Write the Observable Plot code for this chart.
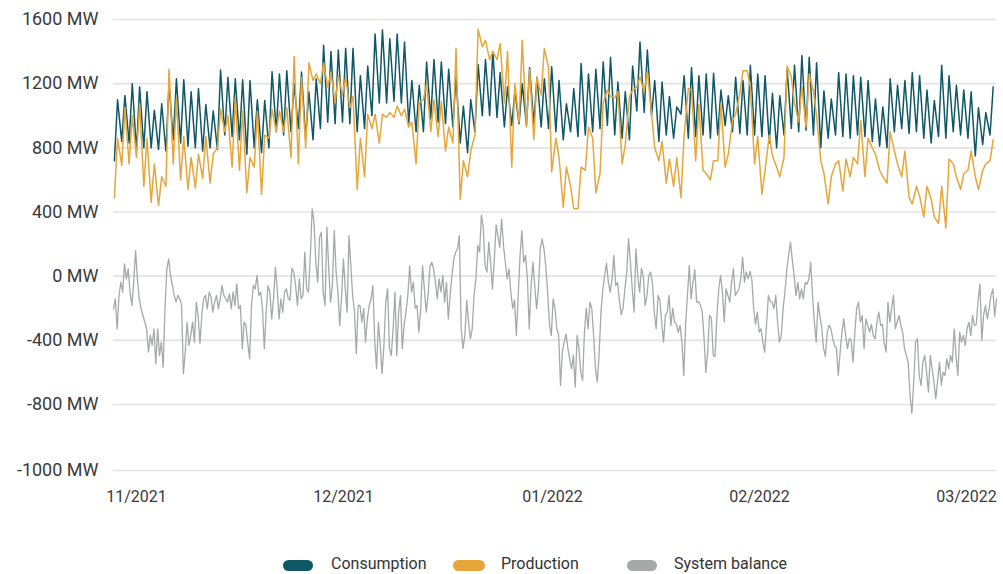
<!DOCTYPE html>
<html>
<head>
<meta charset="utf-8">
<script src="https://cdn.jsdelivr.net/npm/d3@7"></script>
<script src="https://cdn.jsdelivr.net/npm/@observablehq/plot@0.6"></script>
<style>
  html, body { margin: 0; padding: 0; background: #fff; }
  #wrap { position: relative; width: 1003px; height: 574px; overflow: hidden; font-family: Roboto, sans-serif; }
  #wrap svg { display: block; }
  .lg-sw { position: absolute; height: 11px; border-radius: 6px; top: 560px; }
  .lg-tx { position: absolute; top: 555px; font-family: Roboto, sans-serif; font-size: 16px; line-height: 18px; color: #333; white-space: nowrap; }
</style>
</head>
<body>
<div id="wrap"></div>
<script>
// ---- data ----
const seriesNames = ["Consumption", "Production", "System balance"];
const seriesColors = ["#0f5866", "#e6a63a", "#a7a9a9"];
const startDate = "2021-11-01T00:00Z";
const endDate = "2022-03-01T00:00Z";

// Consumption, MW: per day [night value, day value], Nov 1 2021 .. Feb 28 2022
const consumption = [
720,1100, 840,1126, 830,1200, 780,1180, 800,1150, 800,1035, 790,1075, 780,1200, 850,1230, 830,1225,
810,1150, 800,1170, 780,1070, 800,1030, 790,1285, 880,1240, 870,1230, 850,1225, 760,1220, 800,1100,
770,1095, 800,1275, 900,1260, 880,1280, 900,1200, 920,1272, 860,1150, 850,1230, 920,1440, 960,1400,
950,1410, 960,1420, 950,1420, 900,1250, 920,1310, 1000,1510, 1080,1535, 1080,1480, 1090,1510, 1080,1460,
950,1220, 900,1190, 900,1335, 980,1350, 960,1335, 950,1290, 930,1240, 830,1060, 770,1100, 900,1320,
1000,1350, 1000,1400, 990,1270, 930,1180, 940,1150, 950,1200, 940,1300, 950,1240, 930,1230, 920,1305,
900,1220, 850,1075, 900,1170, 870,1325, 880,1260, 900,1290, 920,1335, 940,1365, 880,1210, 860,1150,
850,1310, 1030,1460, 1020,1410, 1000,1220, 840,1210, 880,1120, 860,1055, 1010,1250, 860,1300, 870,1250,
880,1260, 860,1265, 880,1160, 940,1125, 900,1240, 890,1220, 880,1315, 880,1260, 870,1250, 830,1140,
800,1125, 880,1290, 920,1315, 900,1375, 910,1365, 880,1330, 800,1155, 860,1105, 880,1270, 870,1260,
860,1250, 880,1240, 870,1220, 840,1105, 810,1055, 800,1230, 900,1190, 920,1220, 890,1270, 900,1250,
860,1160, 830,1095, 870,1315, 860,1250, 900,1190, 880,1160, 860,1150, 750,1050, 820,1020, 880,1180
];

// Production, MW: per day [night value, day value]
const production = [
490,860, 690,1050, 700,1000, 740,1075, 560,860, 460,700, 440,620, 560,1290, 700,1110, 600,870,
540,740, 550,760, 610,870, 580,760, 800,1040, 900,1000, 680,1110, 660,1030, 520,740, 680,1030,
510,880, 860,1040, 900,1030, 900,1050, 740,1370, 700,1240, 800,1330, 1220,1260, 1200,1330, 1180,1270,
1080,1250, 1130,1240, 1050,1120, 540,860, 620,1010, 920,1010, 830,1010, 990,1020, 990,1060, 1000,1040,
930,960, 700,1080, 1100,1200, 900,1100, 870,1090, 780,930, 830,1420, 480,720, 620,780, 880,1540,
1430,1470, 1350,1400, 1350,1450, 1080,1400, 680,1200, 960,1470, 930,1290, 850,1240, 1130,1420, 1300,650,
860,740, 430,680, 560,420, 420,680, 660,930, 860,520, 640,1080, 1160,1120, 1110,1150, 700,820,
1120,1160, 1180,1240, 1150,1280, 1010,800, 720,840, 580,730, 560,740, 490,880, 1170,1160, 720,1070,
660,640, 600,720, 720,1075, 680,760, 970,1010, 1140,1280, 1280,1180, 700,870, 510,660, 880,750,
680,620, 740,1310, 1240,1080, 960,1180, 930,1260, 1150,1000, 720,640, 450,620, 700,720, 530,730,
620,740, 700,970, 620,860, 800,760, 660,620, 580,900, 780,700, 620,780, 490,450, 560,500,
370,560, 480,370, 330,560, 300,730, 700,620, 540,640, 660,780, 620,540, 660,700, 720,850
];

// System balance, MW: every 6 hours from Nov 1 2021 00:00 to Mar 1 2022 00:00
const balance = [
-203,-141,-328,-120,-37,-99,77,-17,46,-99,
-183,-37,160,-17,-141,-203,-245,-286,-328,-473,
-369,-432,-328,-546,-328,-494,-411,-567,-200,46,
108,4,-58,-120,-162,-120,-141,-180,-608,-473,
-286,-432,-369,-286,-411,-162,-245,-420,-245,-141,
-120,-203,-99,-130,-224,-162,-120,-203,-141,-58,
-120,-141,-162,-110,-203,-99,-183,-48,-203,-183,
-452,-286,-307,-420,-515,-183,-58,-79,4,-120,
-99,-203,-452,-224,-60,-100,-266,-141,56,-79,
-266,-141,-224,-100,-79,-140,
-150,50,25,-58,-183,-17,-141,-120,150,-80,
-99,129,420,336,87,-37,240,274,-100,-183,
305,46,-162,-58,285,30,-100,-307,-120,108,
-79,-224,253,66,-120,-220,-484,-183,-183,-286,
-203,-411,-266,-183,-141,-58,-400,-577,-286,-432,
-608,-432,-162,-79,-452,-494,-328,-99,-494,-224,
-120,-452,-300,-224,-120,66,-100,-37,-200,-183,
-349,-203,66,-79,-224,-120,60,87,46,-37,
-141,-17,-99,4,-162,-37,-266,-120,4,108,
150,170,253,-328,-452,-369,
-150,-286,-390,-328,-120,-17,191,150,380,300,
66,25,212,87,-79,100,320,250,180,357,
191,87,-17,46,-100,-200,-150,-370,-120,129,
284,87,129,-17,-328,-60,87,-60,-203,-79,
170,233,170,60,-100,-300,-369,-141,-203,-328,
-369,-681,-473,-411,-360,-450,-515,-577,-494,-691,
-369,-452,-600,-650,-350,-200,-328,-162,-203,-369,
-577,-660,-480,-220,-80,4,80,-37,-99,-17,
129,-58,-40,-150,-240,-200,-80,25,233,87,
-79,-224,170,0,-100,50,0,-183,-120,4,
25,-50,-230,-328,-120,-150,-286,-411,-245,-224,
-120,-307,-200,-286,-300,-350,-307,-411,-619,-300,
-120,66,-141,-37,40,-162,-160,-180,-220,-380,
-600,-473,-245,-260,-494,-500,-250,-80,4,-99,
-286,-79,-120,-162,-37,46,-120,-100,-80,-17,
118,-37,25,-17,30,-20,-200,-300,-224,-349,
-328,-411,-473,-300,-120,-160,-162,-203,-120,-286,
-411,-369,-200,-100,40,130,212,100,4,-120,
-40,-141,-80,-140,-40,-50,-17,87,-120,-286,
-411,-162,-250,-320,-450,-500,-350,-307,
-330,-390,-432,-450,-619,-473,-349,-266,-369,-452,
-390,-400,-536,-350,-200,-162,-286,-245,-452,-266,
-307,-349,-300,-369,-390,-286,-224,-307,-300,-420,
-473,-162,-286,-200,-120,-328,-286,-245,-307,-350,
-450,-494,-540,-743,-826,-660,-411,-390,-620,-681,
-536,-494,-600,-722,-494,-577,-660,-764,-650,-536,
-680,-600,-619,-515,-577,-494,-536,-328,-500,-619,
-349,-411,-369,-432,-328,-286,-369,-245,-307,-300,
-150,-48,-400,-245,-183,-266,-203,-120,-79,-250,
-141
];

const yTicks = [1600, 1200, 800, 400, 0, -400, -800, -1000];
const xTickDates = ["2021-11-04T03:00Z", "2021-12-02T06:00Z", "2021-12-30T16:00Z", "2022-01-27T19:00Z", "2022-02-24T22:00Z"];
const xTickLabels = ["11/2021", "12/2021", "01/2022", "02/2022", "03/2022"];

// ---- build tables ----
const DAY = 86400000;
const t0 = new Date(startDate).getTime();
const pairTime = i => new Date(t0 + (Math.floor(i / 2) + (i % 2 ? 0.55 : 0.12)) * DAY);
const consData = consumption.map((v, i) => ({t: pairTime(i), v}));
const prodData = production.map((v, i) => ({t: pairTime(i), v}));
const balData = balance.map((v, i) => ({t: new Date(t0 + i * DAY / 4), v}));
const tickDates = xTickDates.map(s => new Date(s));
const labelOf = new Map(tickDates.map((d, i) => [+d, xTickLabels[i]]));

const chart = Plot.plot({
  width: 1003,
  height: 520,
  marginLeft: 113,
  marginRight: 7,
  marginTop: 19,
  marginBottom: 50,
  style: {fontFamily: "Roboto, sans-serif", fontSize: "18px", color: "#3a3a3a", background: "#fff", overflow: "visible"},
  x: {type: "utc", domain: [new Date(startDate), new Date(endDate)], range: [113, 996]},
  y: {type: "linear", domain: [-1000, -800, 1600], range: [470, 404, 19]},
  marks: [
    Plot.gridY(yTicks, {stroke: "#e3e3e3", strokeOpacity: 1, strokeWidth: 1.6}),
    Plot.axisY(yTicks, {tickSize: 0, tickPadding: 15, label: null, fontSize: 18, tickFormat: d => `${d} MW`}),
    Plot.axisX(tickDates, {tickSize: 0, tickPadding: 20, label: null, fontSize: 16,
      tickFormat: d => labelOf.get(+d)}),
    Plot.line(balData, {x: "t", y: "v", stroke: seriesColors[2], strokeWidth: 1.3}),
    Plot.line(consData, {x: "t", y: "v", stroke: seriesColors[0], strokeWidth: 1.5}),
    Plot.line(prodData, {x: "t", y: "v", stroke: seriesColors[1], strokeWidth: 1.5})
  ]
});

const wrap = document.getElementById("wrap");
wrap.appendChild(chart);

// legend
const lgSw = [283, 453, 627];
const lgSwW = [30, 32, 30];
const lgTx = [331, 501, 674];
seriesNames.forEach((name, i) => {
  const sw = document.createElement("div");
  sw.className = "lg-sw";
  sw.style.left = lgSw[i] + "px";
  sw.style.width = lgSwW[i] + "px";
  sw.style.background = seriesColors[i];
  wrap.appendChild(sw);
  const tx = document.createElement("div");
  tx.className = "lg-tx";
  tx.style.left = lgTx[i] + "px";
  tx.textContent = name;
  wrap.appendChild(tx);
});
</script>
</body>
</html>
